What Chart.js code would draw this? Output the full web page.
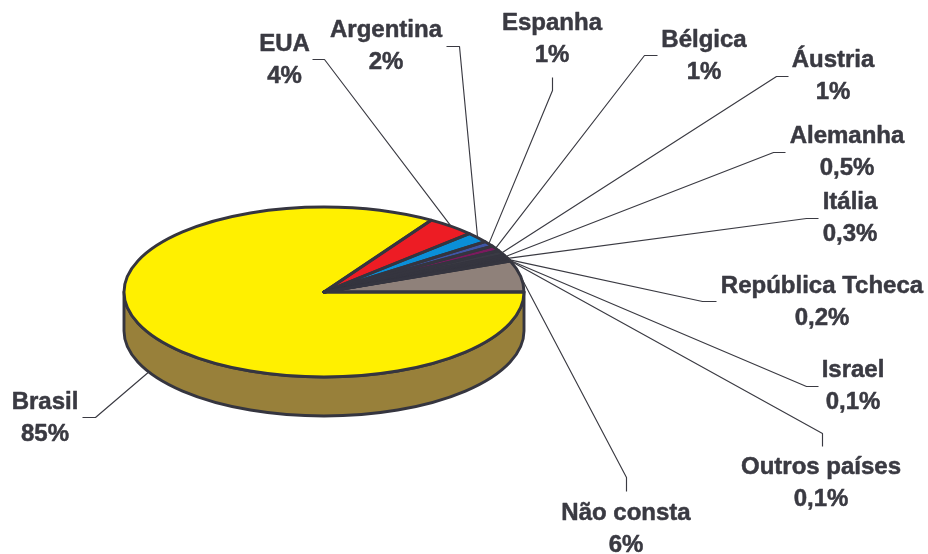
<!DOCTYPE html>
<html><head><meta charset="utf-8">
<style>html,body{margin:0;padding:0;background:#fff}canvas{display:block}</style>
<script src="https://cdn.jsdelivr.net/npm/chart.js@4"></script>
</head><body><canvas id="c" width="928" height="554"></canvas>
<script>
const categories = ["Brasil","EUA","Argentina","Espanha","Bélgica","Áustria","Alemanha","Itália","República Tcheca","Israel","Outros países","Não consta"];
const values = [85,4,2,1,1,1,0.5,0.3,0.2,0.1,0.1,6];
const valueLabels = ["85%","4%","2%","1%","1%","1%","0,5%","0,3%","0,2%","0,1%","0,1%","6%"];
const sliceColors = ["#FFF000","#ED1C24","#0A8FD8","#3F56A6","#7B1A5E","#3A3A44","#A8805F","#3A3A44","#A9A9B4","#3A3A44","#3A3A44","#8F817A"];
const wallColors = ["#98803A"];
const labelCenterX = [45,284.5,386,552,704,833,847,850,822,853,821,626];
const labelBaseY = [409,51,37,30,47,67,143,209,293,377,474,520];
const elbowA = [[95,417],[324,59],[459,46],[552,90],[644,55],[776,76],[773,152],[806,218],[702,301],[806,386],[822,433],[626,477]];
const elbowB = [[82,417],[312,59],[446,46],[552,77],[657,55],[788,76],[785,152],[818,218],[716,301],[818,386],[822,446],[626,491]];

const SQUASH = 0.425, DEPTH = 39, INK = "#35353F", TXT = "#3A3A42";

const pie3d = {
  id: "pie3d",
  beforeDatasetsDraw(chart) {
    const ctx = chart.ctx, arcs = chart.getDatasetMeta(0).data;
    arcs.forEach((a, i) => {
      const s = Math.max(norm(a.startAngle), 0), e = Math.min(norm(a.startAngle) + (a.endAngle - a.startAngle), Math.PI);
      if (e <= s) return;
      const R = a.outerRadius, ry = R * SQUASH;
      ctx.beginPath();
      ctx.ellipse(a.x, a.y, R, ry, 0, s, e);
      ctx.ellipse(a.x, a.y + DEPTH, R, ry, 0, e, s, true);
      ctx.closePath();
      ctx.fillStyle = wallColors[i] || "#888";
      ctx.fill();
      ctx.strokeStyle = INK; ctx.lineWidth = 2.9; ctx.lineJoin = "round";
      ctx.stroke();
    });
    const a0 = arcs[0];
    ctx.save();
    ctx.translate(a0.x, a0.y); ctx.scale(1, SQUASH); ctx.translate(-a0.x, -a0.y);
  },
  afterDatasetsDraw(chart) {
    const ctx = chart.ctx, arcs = chart.getDatasetMeta(0).data;
    ctx.restore();
    ctx.strokeStyle = INK; ctx.lineWidth = 2.9; ctx.lineJoin = "round";
    arcs.forEach(a => {
      const R = a.outerRadius, ry = R * SQUASH;
      ctx.beginPath();
      ctx.moveTo(a.x, a.y);
      ctx.ellipse(a.x, a.y, R, ry, 0, a.startAngle, a.endAngle);
      ctx.closePath();
      ctx.stroke();
    });
    ctx.strokeStyle = "#3A3A42"; ctx.lineWidth = 1.15;
    arcs.forEach((a, i) => {
      const R = a.outerRadius, ry = R * SQUASH, m = norm((a.startAngle + a.endAngle) / 2);
      const x = a.x + R * Math.cos(m);
      let y = a.y + ry * Math.sin(m);
      if (i === 0) y += DEPTH;
      ctx.beginPath();
      ctx.moveTo(x, y);
      ctx.lineTo(elbowA[i][0] + .5, elbowA[i][1] + .5);
      ctx.lineTo(elbowB[i][0] + .5, elbowB[i][1] + .5);
      ctx.stroke();
    });
    ctx.fillStyle = TXT; ctx.strokeStyle = TXT; ctx.lineWidth = 0.5; ctx.textAlign = "center"; ctx.textBaseline = "alphabetic";
    ctx.font = "bold 24px 'Liberation Sans', Arial, sans-serif";
    categories.forEach((c, i) => {
      [[c, labelBaseY[i]], [valueLabels[i], labelBaseY[i] + 32]].forEach(([t, y]) => {
        ctx.fillText(t, labelCenterX[i], y);
        ctx.strokeText(t, labelCenterX[i], y);
      });
    });
  }
};
function norm(t) { const p = 2 * Math.PI; return ((t % p) + p) % p; }

new Chart(document.getElementById("c"), {
  type: "pie",
  data: { labels: categories, datasets: [{ data: values, backgroundColor: sliceColors, borderWidth: 0 }] },
  options: {
    responsive: false, animation: false, rotation: 90,
    layout: { padding: { left: 124, right: 404, top: 92, bottom: 62 } },
    plugins: { legend: { display: false }, tooltip: { enabled: false } }
  },
  plugins: [pie3d]
});
</script></body></html>
